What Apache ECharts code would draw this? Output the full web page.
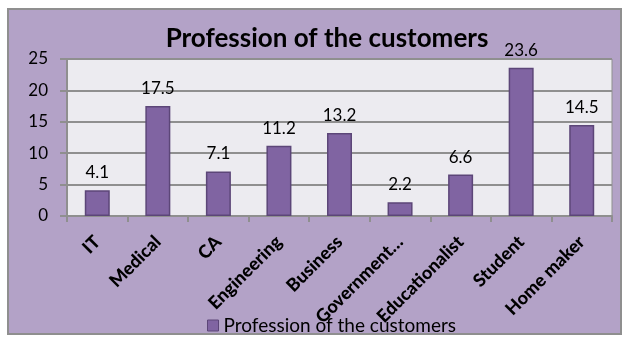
<!DOCTYPE html>
<html><head><meta charset="utf-8">
<script src="https://cdn.jsdelivr.net/npm/echarts@6/dist/echarts.min.js"></script>
<style>html,body{margin:0;padding:0;background:#fff}#c{width:630px;height:348px}</style>
</head><body><div id="c"></div>
<script>
const categories = ['IT','Medical','CA','Engineering','Business','Government…','Educationalist','Student','Home maker'];
const values = [4.1,17.5,7.1,11.2,13.2,2.2,6.6,23.6,14.5];
const seriesName = 'Profession of the customers';
const titleText = 'Profession of the customers';

const chart = echarts.init(document.getElementById('c'), null, {renderer:'canvas'});
chart.setOption({
  animation:false,
  backgroundColor:'#ffffff',
  graphic:[{type:'rect', z:-10, shape:{x:8,y:9,width:613,height:325}, style:{fill:'#b3a2c7', stroke:'#8f8f8f', lineWidth:2}}],
  title:{text:titleText, left:322, textAlign:'center', top:21, textStyle:{fontFamily:'Lato', fontWeight:'bold', fontSize:26, color:'#000'}},
  legend:{top:311, left:202, itemWidth:11, itemHeight:11, itemGap:5, textStyle:{fontFamily:'Lato', fontSize:19, color:'#000'}, data:[{name:seriesName, icon:'rect', itemStyle:{borderColor:'#5c4678', borderWidth:1}}]},
  grid:{left:67, right:18, top:59, bottom:132, show:true, backgroundColor:'#ecebf0', borderColor:'#8f8f8f', borderWidth:1},
  xAxis:{type:'category', data:categories,
    axisLine:{lineStyle:{color:'#8f8f8f', width:2}},
    axisTick:{show:true, length:6, lineStyle:{color:'#8f8f8f', width:2}},
    axisLabel:{rotate:45, interval:0, fontFamily:'Lato', fontWeight:900, fontSize:18, color:'#000', margin:23}},
  yAxis:{type:'value', min:0, max:25, interval:5,
    axisLine:{show:true, lineStyle:{color:'#8f8f8f', width:2}},
    axisTick:{show:true, length:7, lineStyle:{color:'#8f8f8f', width:2}},
    splitLine:{lineStyle:{color:'#8f8f8f', width:2}},
    axisLabel:{fontFamily:'Lato', fontSize:17, color:'#000', margin:19}},
  series:[{name:seriesName, type:'bar', data:values, barWidth:25,
    itemStyle:{color:'#8064a2', borderColor:'#5c4678', borderWidth:1.5},
    label:{show:true, position:'top', distance:9, fontFamily:'Lato', fontSize:17, color:'#000'}}]
});
</script></body></html>
